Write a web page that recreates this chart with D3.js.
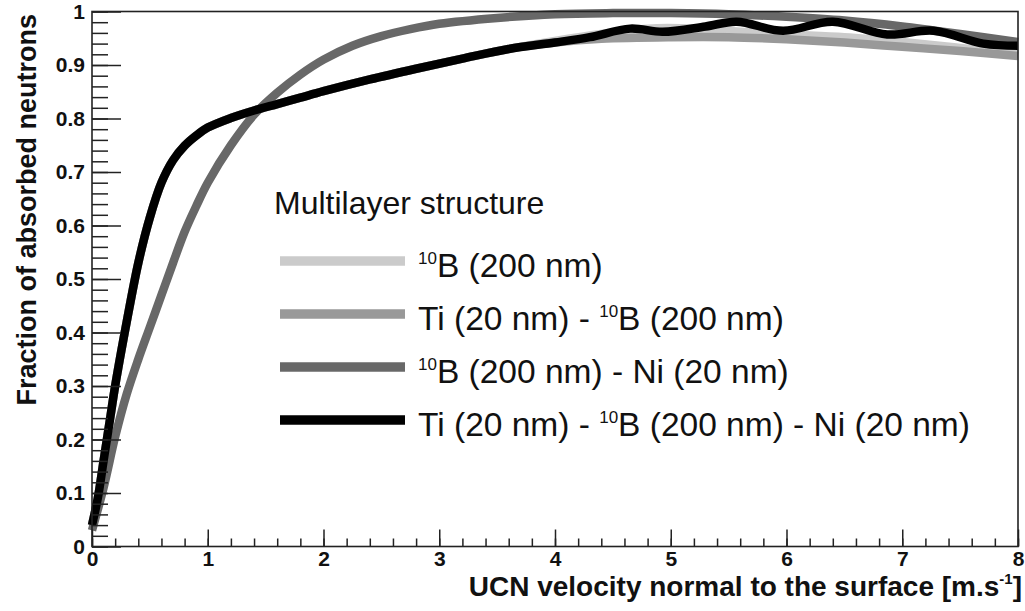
<!DOCTYPE html>
<html>
<head>
<meta charset="utf-8">
<script src="https://cdn.jsdelivr.net/npm/d3@7"></script>
<style>
  body { margin: 0; background: #fff; }
  text { font-family: "Liberation Sans", Arial, Helvetica, sans-serif; }
</style>
</head>
<body>
<div id="chart"></div>
<script>
// velocity grid for each series (m/s) and fraction of absorbed neutrons
const vBlack = [0, 0.05, 0.1, 0.15, 0.2, 0.3, 0.4, 0.5, 0.6, 0.7, 0.8, 0.9, 1.0, 1.2, 1.4, 1.6, 1.8, 2.0, 2.4, 2.8, 3.2, 3.6, 4.0, 4.3, 4.65, 4.93, 5.3, 5.57, 5.97, 6.4, 6.87, 7.27, 7.7, 8.0];
const fBlack = [0.04, 0.09, 0.16, 0.23, 0.3, 0.42, 0.53, 0.615, 0.68, 0.722, 0.749, 0.768, 0.783, 0.801, 0.815, 0.827, 0.839, 0.851, 0.873, 0.893, 0.912, 0.93, 0.942, 0.952, 0.968, 0.962, 0.972, 0.981, 0.964, 0.981, 0.957, 0.964, 0.94, 0.936];

const vDark = [0, 0.1, 0.2, 0.3, 0.4, 0.5, 0.6, 0.7, 0.8, 0.9, 1.0, 1.2, 1.4, 1.6, 1.8, 2.0, 2.25, 2.5, 2.75, 3.0, 3.5, 4.0, 4.5, 5.0, 5.5, 6.0, 6.5, 7.0, 7.5, 8.0];
const fDark = [0.03, 0.11, 0.205, 0.285, 0.35, 0.41, 0.47, 0.53, 0.588, 0.636, 0.68, 0.75, 0.807, 0.848, 0.882, 0.91, 0.936, 0.954, 0.967, 0.977, 0.988, 0.995, 0.997, 0.997, 0.995, 0.99, 0.983, 0.972, 0.958, 0.943];

const vLight = [0, 0.05, 0.1, 0.15, 0.2, 0.3, 0.4, 0.5, 0.6, 0.7, 0.8, 0.9, 1.0, 1.2, 1.4, 1.6, 1.8, 2.0, 2.4, 2.8, 3.2, 3.6, 4.0, 4.4, 4.8, 5.2, 5.6, 6.0, 6.5, 7.0, 7.5, 8.0];
const fLight = [0.04, 0.09, 0.16, 0.23, 0.3, 0.42, 0.53, 0.615, 0.68, 0.722, 0.749, 0.768, 0.783, 0.801, 0.815, 0.827, 0.839, 0.851, 0.873, 0.893, 0.912, 0.93, 0.945, 0.958, 0.968, 0.968, 0.962, 0.957, 0.952, 0.943, 0.932, 0.92];

const vMid = [0, 0.05, 0.1, 0.15, 0.2, 0.3, 0.4, 0.5, 0.6, 0.7, 0.8, 0.9, 1.0, 1.2, 1.4, 1.6, 1.8, 2.0, 2.4, 2.8, 3.2, 3.6, 4.0, 4.4, 5.0, 5.5, 6.0, 6.5, 7.0, 7.5, 8.0];
const fMid = [0.04, 0.09, 0.16, 0.23, 0.3, 0.42, 0.53, 0.615, 0.68, 0.722, 0.749, 0.768, 0.783, 0.801, 0.815, 0.827, 0.839, 0.851, 0.873, 0.893, 0.912, 0.93, 0.942, 0.949, 0.952, 0.952, 0.948, 0.942, 0.934, 0.926, 0.917];

const xMajor = [0, 1, 2, 3, 4, 5, 6, 7, 8];
const yMajor = [0, 0.1, 0.2, 0.3, 0.4, 0.5, 0.6, 0.7, 0.8, 0.9, 1];
const yLabels = ["0", "0.1", "0.2", "0.3", "0.4", "0.5", "0.6", "0.7", "0.8", "0.9", "1"];

const legendTitle = "Multilayer structure";
// each legend label: [before superscript, superscript, after]
const seriesNames = [
  ["", "10", "B (200 nm)"],
  ["Ti (20 nm) - ", "10", "B (200 nm)"],
  ["", "10", "B (200 nm) - Ni (20 nm)"],
  ["Ti (20 nm) - ", "10", "B (200 nm) - Ni (20 nm)"]
];
const seriesColors = ["#cbcbcb", "#999999", "#686868", "#000000"];

const W = 1025, H = 611;
const plot = {left: 92, right: 1018, top: 11.5, bottom: 546.5};

const svg = d3.select("#chart").append("svg")
    .attr("width", W).attr("height", H)
    .style("background", "#fff");

const x = d3.scaleLinear().domain([0, 8]).range([plot.left, plot.right]);
const y = d3.scaleLinear().domain([0, 1]).range([plot.bottom, plot.top]);

// curves, lightest first so black is on top
const series = [
  d3.zip(vLight, fLight),
  d3.zip(vMid, fMid),
  d3.zip(vDark, fDark),
  d3.zip(vBlack, fBlack)
];
const line = d3.line()
    .x(d => x(d[0]))
    .y(d => y(d[1]))
    .curve(d3.curveCatmullRom.alpha(0.5));

svg.append("g").selectAll("path")
  .data(series)
  .join("path")
    .attr("fill", "none")
    .attr("stroke", (d, i) => seriesColors[i])
    .attr("stroke-width", 8.5)
    .attr("stroke-linejoin", "round")
    .attr("d", line);

// y axis, ROOT style ticks inside the frame
const yAxisMinor = d3.axisLeft(y).tickValues(d3.range(0, 1.001, 0.02)).tickSize(-16).tickFormat("");
const yAxisMajor = d3.axisLeft(y).tickValues(yMajor).tickSize(-29).tickPadding(7)
    .tickFormat((d, i) => yLabels[i]);
svg.append("g").attr("transform", `translate(${plot.left},0)`).call(yAxisMinor);
svg.append("g").attr("transform", `translate(${plot.left},0)`).call(yAxisMajor);

// x axis
const xAxisMinor = d3.axisBottom(x).tickValues(d3.range(0, 8.001, 0.2)).tickSize(-8).tickFormat("");
const xAxisMajor = d3.axisBottom(x).tickValues(xMajor).tickSize(-17).tickPadding(5)
    .tickFormat(d3.format("d"));
svg.append("g").attr("transform", `translate(0,${plot.bottom})`).call(xAxisMinor);
svg.append("g").attr("transform", `translate(0,${plot.bottom})`).call(xAxisMajor);

svg.selectAll(".domain").remove();
svg.selectAll(".tick line").attr("stroke", "#222").attr("stroke-width", 1.5);
svg.selectAll(".tick text")
    .attr("fill", "#111")
    .style("font-family", "'Liberation Sans', Arial, sans-serif")
    .style("font-size", "21px")
    .style("font-weight", "bold");

// frame
svg.append("rect")
    .attr("x", plot.left).attr("y", plot.top)
    .attr("width", plot.right - plot.left).attr("height", plot.bottom - plot.top)
    .attr("fill", "none").attr("stroke", "#222").attr("stroke-width", 1.6);

// axis titles
const xt = svg.append("text")
    .attr("x", 1022).attr("y", 596)
    .attr("text-anchor", "end")
    .style("font-size", "28px").style("font-weight", "bold").attr("fill", "#111");
xt.append("tspan").text("UCN velocity normal to the surface [m.s");
xt.append("tspan").attr("dy", -12).style("font-size", "15px").text("-1");
xt.append("tspan").attr("dy", 12).text("]");

svg.append("text")
    .attr("transform", "translate(36,14) rotate(-90)")
    .attr("text-anchor", "end")
    .style("font-size", "27px").style("font-weight", "bold").attr("fill", "#111")
    .text("Fraction of absorbed neutrons");

// legend
const legend = svg.append("g");
legend.append("text")
    .attr("x", 274).attr("y", 214)
    .style("font-size", "32px").attr("fill", "#111")
    .text(legendTitle);

const rowY = d3.scalePoint().domain(d3.range(seriesNames.length)).range([261, 420]);
const rows = legend.selectAll("g.row")
  .data(seriesNames)
  .join("g").attr("class", "row");
rows.append("line")
    .attr("x1", 280).attr("x2", 405)
    .attr("y1", (d, i) => rowY(i)).attr("y2", (d, i) => rowY(i))
    .attr("stroke", (d, i) => seriesColors[i])
    .attr("stroke-width", 9.5);
const lab = rows.append("text")
    .attr("x", 418).attr("y", (d, i) => rowY(i) + 16)
    .style("font-size", "33.5px").attr("fill", "#111");
lab.append("tspan").text(d => d[0]);
lab.append("tspan").attr("dy", -13).style("font-size", "17px").text(d => d[1]);
lab.append("tspan").attr("dy", 13).text(d => d[2]);
</script>
</body>
</html>
